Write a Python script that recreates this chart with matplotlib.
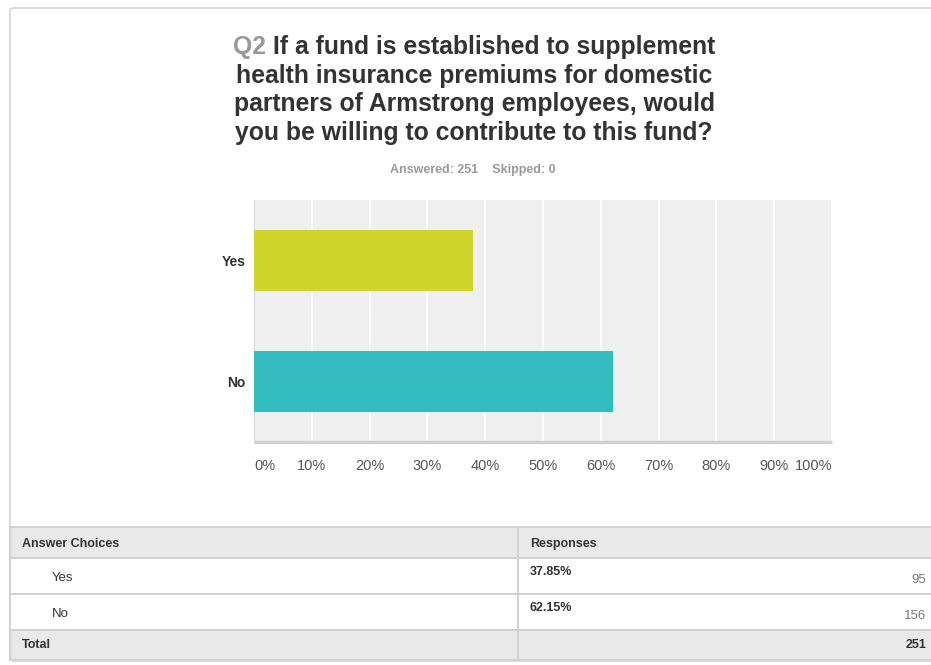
import matplotlib.pyplot as plt
from matplotlib.patches import Rectangle, FancyBboxPatch

# survey results
choices = ["Yes", "No"]
percents = [37.85, 62.15]
counts = [95, 156]
total = 251
skipped = 0
bar_colors = ["#cfd52a", "#33bdbf"]
tick_labels = ["0%", "10%", "20%", "30%", "40%", "50%", "60%", "70%", "80%", "90%", "100%"]

W, H = 931, 665
plt.rcParams['font.family'] = ['Liberation Sans', 'DejaVu Sans']
fig = plt.figure(figsize=(W / 100, H / 100), dpi=100)


def fx(px):
    return px / W


def fy(py):
    return 1 - py / H


# card outline, kept behind everything
card = FancyBboxPatch((fx(10), fy(661)), fx(940) - fx(10), fy(8) - fy(661),
                      boxstyle="round,pad=0,rounding_size=0.004",
                      transform=fig.transFigure, facecolor="white",
                      edgecolor="#d6d6d6", linewidth=1.2, zorder=-10)
fig.patches.append(card)

# title, first line starts with a grey question number
title_size = 17.8
title_lines = ["If a fund is established to supplement",
               "health insurance premiums for domestic",
               "partners of Armstrong employees, would",
               "you be willing to contribute to this fund?"]
t0 = fig.text(fx(474), fy(47), "Q2 " + title_lines[0], ha="center", va="center",
              fontsize=title_size, fontweight="bold", color="#333333")
fig.canvas.draw()
bb = t0.get_window_extent()
t0.remove()
q = fig.text(bb.x0 / W, fy(47), "Q2 ", ha="left", va="center",
             fontsize=title_size, fontweight="bold", color="#999999")
fig.canvas.draw()
qb = q.get_window_extent()
fig.text(qb.x1 / W, fy(47), title_lines[0], ha="left", va="center",
         fontsize=title_size, fontweight="bold", color="#333333")
for i, line in enumerate(title_lines[1:]):
    fig.text(fx(474), fy(76 + 28.3 * i), line, ha="center", va="center",
             fontsize=title_size, fontweight="bold", color="#333333")

fig.text(fx(473), fy(170), f"Answered: {total}    Skipped: {skipped}",
         ha="center", va="center", fontsize=9, fontweight="bold", color="#999999")

# bar chart
ax = fig.add_axes([fx(254), fy(442), fx(832) - fx(254), fy(200) - fy(442)])
ax.set_zorder(2)
ax.set_facecolor("#f0f0f0")
ax.barh(range(len(choices)), percents, height=0.5, color=bar_colors, zorder=3)
ax.set_xlim(0, 100)
ax.set_ylim(1.5, -0.5)
ax.set_xticks(range(0, 101, 10))
ax.set_xticklabels(tick_labels)
ax.grid(axis="x", color="white", linewidth=1.2, zorder=1)
ax.set_yticks(range(len(choices)))
ax.set_yticklabels(choices, fontsize=10, fontweight="bold", color="#333333")
ax.tick_params(axis="both", length=0)
ax.tick_params(axis="y", pad=6)
ax.tick_params(axis="x", pad=12, labelsize=10.5, labelcolor="#555555")
labels = ax.get_xticklabels()
labels[0].set_ha("left")
labels[-1].set_ha("right")
for side in ["top", "right"]:
    ax.spines[side].set_visible(False)
ax.spines["left"].set_color("#d8d8d8")
ax.spines["bottom"].set_color("#d0d0d0")
ax.spines["bottom"].set_linewidth(2.5)
ax.spines["bottom"].set_capstyle("butt")

# response table
x_left, x_mid, x_right = 10, 518, 940
rows = [(527, 558, "#e9e9e9"), (558, 594, "white"), (594, 630, "white"), (630, 660, "#e9e9e9")]
for top, bot, col in rows:
    for a, b in [(x_left, x_mid), (x_mid, x_right)]:
        fig.patches.append(Rectangle((fx(a), fy(bot)), fx(b) - fx(a), fy(top) - fy(bot),
                                     transform=fig.transFigure, facecolor=col,
                                     edgecolor="#d0d0d0", linewidth=1.3))

fig.text(fx(22), fy(544), "Answer Choices", ha="left", va="center",
         fontsize=9, fontweight="bold", color="#333333")
fig.text(fx(530), fy(544), "Responses", ha="left", va="center",
         fontsize=9, fontweight="bold", color="#333333")
for i, (c, p, n) in enumerate(zip(choices, percents, counts)):
    top = 558 + 36 * i
    fig.text(fx(52), fy(top + 20), c, ha="left", va="center",
             fontsize=9.5, color="#333333")
    fig.text(fx(530), fy(top + 14), f"{p:.2f}%", ha="left", va="center",
             fontsize=9, fontweight="bold", color="#333333")
    fig.text(fx(926), fy(top + 22), str(n), ha="right", va="center",
             fontsize=9.5, color="#777777")
fig.text(fx(22), fy(645), "Total", ha="left", va="center",
         fontsize=9, fontweight="bold", color="#333333")
fig.text(fx(926), fy(645), str(total), ha="right", va="center",
         fontsize=9, fontweight="bold", color="#333333")

fig.savefig("out.png", dpi=100)
